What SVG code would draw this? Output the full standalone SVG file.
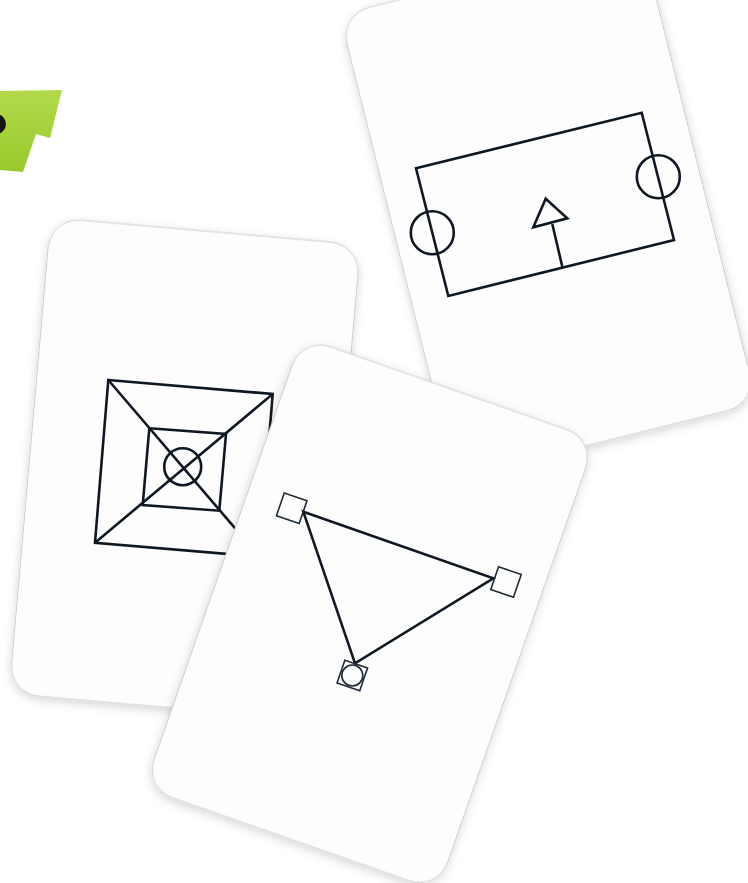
<svg xmlns="http://www.w3.org/2000/svg" width="748" height="883" viewBox="0 0 748 883">
<defs>
<filter id="sh" x="-20%" y="-20%" width="140%" height="140%">
<feDropShadow dx="0" dy="3" stdDeviation="5" flood-color="#000" flood-opacity="0.16"/>
</filter>
<linearGradient id="gr" x1="0" y1="0" x2="0" y2="1">
<stop offset="0" stop-color="#b2d94a"/>
<stop offset="1" stop-color="#98c92c"/>
</linearGradient>
</defs>
<style>
.card{fill:#fdfdfd;stroke:#cdcdcd;stroke-width:1}
.ln{fill:none;stroke:#0f1822;stroke-width:2.6;stroke-linejoin:miter}
.th{fill:none;stroke:#1e2a36;stroke-width:1.6}
</style>
<rect width="748" height="883" fill="#ffffff"/>
<g id="tab">
<polygon points="0,91 62,90 50,138 36,134 23,172 0,170" fill="url(#gr)"/>
<circle cx="-4" cy="124" r="10" fill="#141414"/>
</g>
<g id="card-rect">
<rect class="card" filter="url(#sh)" transform="translate(548.4,208.9) rotate(-14)" x="-155.5" y="-239" width="311" height="478" rx="30"/>
<polygon class="ln" points="416,168.3 641.7,112.7 674,240 448.3,296"/>
<circle class="ln" cx="432.3" cy="232.7" r="21.5" stroke-width="2.3"/>
<circle class="ln" cx="658.3" cy="176.7" r="21.5" stroke-width="2.3"/>
<line class="ln" x1="562.3" y1="266.7" x2="552.3" y2="224" stroke-width="2.3"/>
<polygon class="ln" points="545.7,198.7 567.3,218.3 533.3,227.3" stroke-width="2.3" fill="#fdfdfd"/>
</g>
<g id="card-square">
<rect class="card" filter="url(#sh)" transform="translate(184.8,469.2) rotate(5)" x="-155.5" y="-239" width="311" height="478" rx="30"/>
<polygon class="ln" points="108.3,380 272.7,394 259.4,556.7 95,542.7"/>
<polygon class="ln" points="149.3,428.3 226,434 219.3,510.7 142.7,505"/>
<line class="ln" x1="108.3" y1="380" x2="259.4" y2="556.7" stroke-width="2"/>
<line class="ln" x1="272.7" y1="394" x2="95" y2="542.7" stroke-width="2"/>
<circle class="ln" cx="182.7" cy="466.7" r="18.5"/>
</g>
<g id="card-triangle">
<rect class="card" filter="url(#sh)" transform="translate(369.9,613.8) rotate(19.3)" x="-155.5" y="-239" width="311" height="478" rx="30"/>
<polygon class="ln" points="303.3,511.7 493.3,578.3 355,663.3"/>
<rect class="th" transform="translate(291.7,508.3) rotate(19)" x="-12" y="-12" width="24" height="24" fill="#fdfdfd"/>
<rect class="th" transform="translate(506,582) rotate(19)" x="-12" y="-12" width="24" height="24" fill="#fdfdfd"/>
<rect class="th" transform="translate(352.3,675.5) rotate(19)" x="-12" y="-12" width="24" height="24" fill="#fdfdfd"/>
<circle class="th" cx="352.3" cy="675.5" r="10.5"/>
</g>
<g id="connectors"/>
</svg>
